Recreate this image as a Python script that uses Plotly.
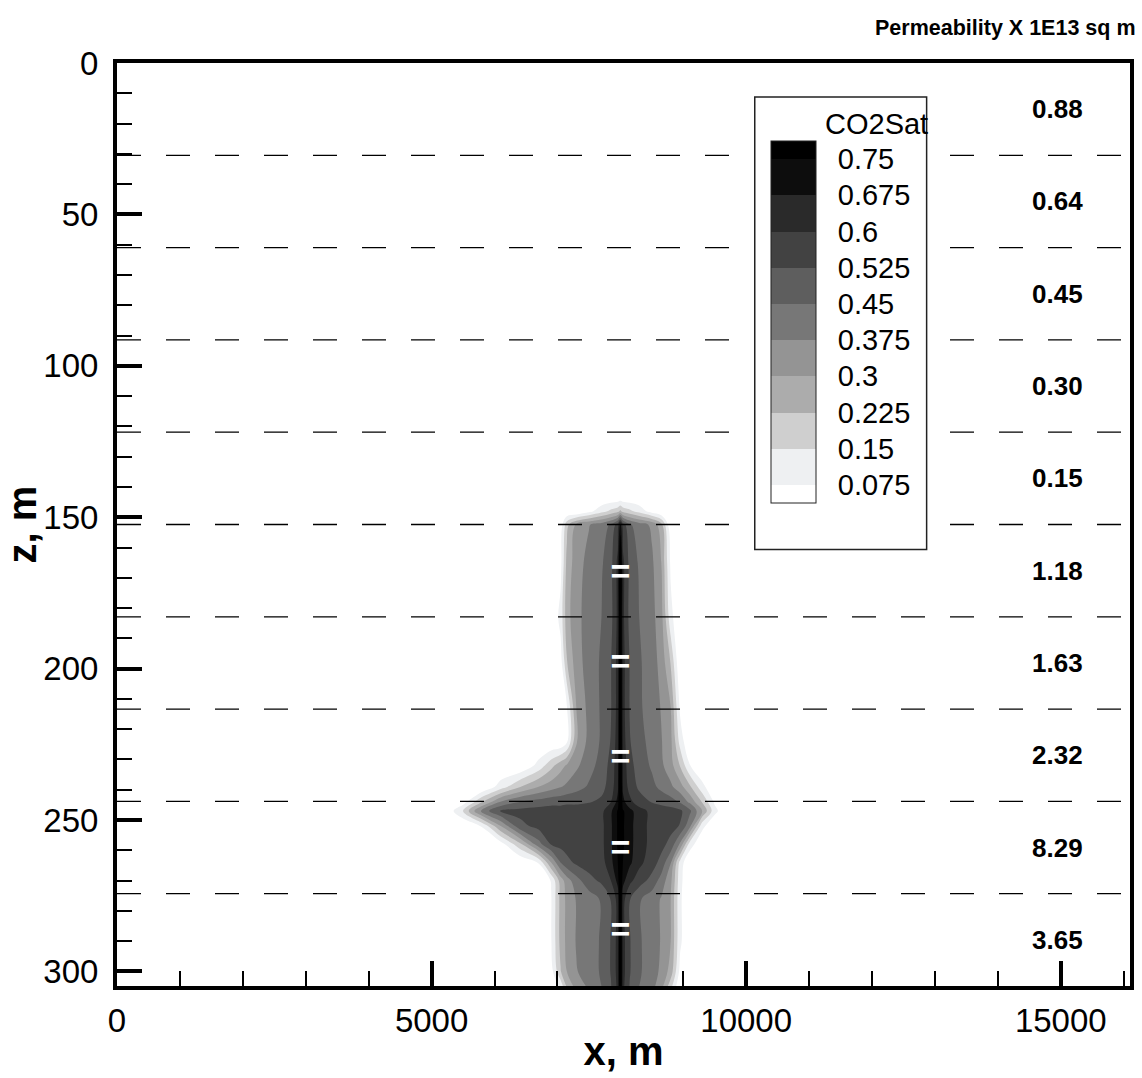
import plotly.graph_objects as go

# ---------------- data ----------------
# grid columns (x, m) and rows (z, m) of the CO2 saturation field
x_m = [5200, 5500, 5800, 6100, 6400, 6700, 6900, 7050, 7150, 7300, 7500, 7700, 7850,
       7960, 8000, 8040, 8150, 8300, 8500, 8650, 8800, 8950, 9100, 9300, 9500, 9700]
z_m = [143, 148, 152.4, 165, 183, 198, 213, 224, 232, 239, 244, 247, 252, 258, 264,
       270, 276, 290, 300, 304.8]

co2sat = [
    [0] * 26,
    [0, 0, 0, 0, 0, 0, 0, 0, 0, 0, 0.05, 0.12, 0.17, 0.2, 0.24, 0.2, 0.17, 0.12, 0.04, 0, 0, 0, 0, 0, 0, 0],
    [0, 0, 0, 0, 0, 0, 0, 0.02, 0.2, 0.31, 0.37, 0.41, 0.46, 0.56, 0.7, 0.56, 0.46, 0.41, 0.36, 0.25, 0, 0, 0, 0, 0, 0],
    [0, 0, 0, 0, 0, 0, 0, 0.05, 0.25, 0.34, 0.40, 0.44, 0.50, 0.62, 0.88, 0.62, 0.50, 0.44, 0.39, 0.30, 0.06, 0, 0, 0, 0, 0],
    [0, 0, 0, 0, 0, 0, 0, 0.1, 0.27, 0.35, 0.41, 0.45, 0.50, 0.62, 0.88, 0.62, 0.50, 0.45, 0.40, 0.33, 0.10, 0, 0, 0, 0, 0],
    [0, 0, 0, 0, 0, 0, 0, 0.04, 0.22, 0.34, 0.41, 0.46, 0.52, 0.63, 0.88, 0.63, 0.52, 0.46, 0.41, 0.35, 0.22, 0, 0, 0, 0, 0],
    [0, 0, 0, 0, 0, 0, 0, 0, 0.07, 0.30, 0.40, 0.46, 0.52, 0.63, 0.88, 0.63, 0.52, 0.46, 0.42, 0.37, 0.30, 0.06, 0, 0, 0, 0],
    [0, 0, 0, 0, 0, 0, 0, 0, 0.06, 0.29, 0.40, 0.46, 0.53, 0.64, 0.88, 0.64, 0.53, 0.47, 0.43, 0.38, 0.32, 0.12, 0, 0, 0, 0],
    [0, 0, 0, 0, 0, 0.10, 0.20, 0.27, 0.31, 0.36, 0.42, 0.48, 0.55, 0.65, 0.88, 0.65, 0.55, 0.49, 0.44, 0.39, 0.33, 0.22, 0.08, 0, 0, 0],
    [0, 0, 0, 0.11, 0.22, 0.30, 0.34, 0.37, 0.39, 0.42, 0.46, 0.50, 0.56, 0.66, 0.90, 0.66, 0.57, 0.51, 0.47, 0.43, 0.39, 0.33, 0.24, 0.10, 0, 0],
    [0, 0.04, 0.22, 0.38, 0.45, 0.48, 0.50, 0.50, 0.51, 0.51, 0.52, 0.54, 0.60, 0.70, 0.93, 0.70, 0.62, 0.56, 0.52, 0.50, 0.48, 0.44, 0.36, 0.22, 0.06, 0],
    [0, 0.15, 0.40, 0.53, 0.55, 0.56, 0.56, 0.56, 0.56, 0.56, 0.57, 0.58, 0.66, 0.76, 0.95, 0.76, 0.70, 0.63, 0.58, 0.57, 0.56, 0.54, 0.47, 0.30, 0.10, 0],
    [0, 0, 0.08, 0.30, 0.50, 0.55, 0.56, 0.56, 0.56, 0.56, 0.57, 0.58, 0.66, 0.76, 0.95, 0.76, 0.70, 0.63, 0.58, 0.56, 0.55, 0.52, 0.40, 0.10, 0, 0],
    [0, 0, 0, 0.04, 0.20, 0.42, 0.53, 0.55, 0.56, 0.56, 0.57, 0.58, 0.66, 0.76, 0.95, 0.76, 0.70, 0.63, 0.58, 0.55, 0.50, 0.36, 0.12, 0, 0, 0],
    [0, 0, 0, 0, 0, 0.08, 0.30, 0.45, 0.50, 0.54, 0.56, 0.57, 0.65, 0.75, 0.93, 0.75, 0.69, 0.62, 0.56, 0.50, 0.38, 0.12, 0, 0, 0, 0],
    [0, 0, 0, 0, 0, 0, 0.08, 0.26, 0.34, 0.42, 0.50, 0.54, 0.60, 0.70, 0.90, 0.70, 0.62, 0.56, 0.50, 0.42, 0.32, 0.10, 0, 0, 0, 0],
    [0, 0, 0, 0, 0, 0, 0.07, 0.25, 0.32, 0.38, 0.41, 0.46, 0.53, 0.63, 0.88, 0.63, 0.53, 0.46, 0.41, 0.37, 0.30, 0.09, 0, 0, 0, 0],
    [0, 0, 0, 0, 0, 0, 0.07, 0.25, 0.32, 0.38, 0.41, 0.46, 0.53, 0.63, 0.88, 0.63, 0.53, 0.46, 0.41, 0.37, 0.30, 0.09, 0, 0, 0, 0],
    [0, 0, 0, 0, 0, 0, 0.04, 0.22, 0.30, 0.37, 0.41, 0.46, 0.53, 0.63, 0.88, 0.63, 0.53, 0.46, 0.41, 0.36, 0.27, 0.05, 0, 0, 0, 0],
    [0, 0, 0, 0, 0, 0, 0, 0.10, 0.24, 0.33, 0.39, 0.45, 0.52, 0.62, 0.88, 0.62, 0.52, 0.45, 0.40, 0.33, 0.18, 0, 0, 0, 0, 0],
]

# contour levels and legend labels
level_start, level_end, level_step = 0.075, 0.75, 0.075
level_values = [0.075, 0.15, 0.225, 0.3, 0.375, 0.45, 0.525, 0.6, 0.675, 0.75]
level_labels = ["0.075", "0.15", "0.225", "0.3", "0.375", "0.45", "0.525", "0.6", "0.675", "0.75"]
band_colors = ["#ffffff", "#eef0f2", "#cfcfcf", "#acacac", "#949494", "#777777",
               "#5e5e5e", "#424242", "#2a2a2a", "#0d0d0d", "#000000"]

# geological layers
layer_bounds = [30.48, 60.96, 91.44, 121.92, 152.4, 182.88, 213.36, 243.84, 274.32]
layer_centers = [15.24, 45.72, 76.2, 106.68, 137.16, 167.64, 198.12, 228.6, 259.08, 289.56]
perm_labels = ["0.88", "0.64", "0.45", "0.30", "0.15", "1.18", "1.63", "2.32", "8.29", "3.65"]
perm_label_x = 14950

# injection well perforation markers
well_x = 8000
perf_z = [169, 198.5, 230, 260, 287]

x_range = [0, 16100]
z_range = [304.8, 0]

FONT = "Liberation Sans, Arial, sans-serif"

# ---------------- figure ----------------
W, H = 1142, 1078
ml, mr, mt, mb = 117, 12, 63, 92
pw, ph = W - ml - mr, H - mt - mb

fig = go.Figure()

fig.add_trace(go.Contour(
    x=x_m, y=z_m, z=co2sat,
    colorscale=[[i / 10, c] for i, c in enumerate(band_colors)],
    autocontour=False,
    contours=dict(start=level_start, end=level_end, size=level_step,
                  coloring="fill", showlines=False),
    line=dict(width=0),
    hoverinfo="skip",
    colorbar=dict(
        x=(756 - ml) / pw, xanchor="left",
        y=1 - (97 - mt) / ph, yanchor="top",
        lenmode="pixels", len=450,
        thicknessmode="pixels", thickness=45,
        xpad=15, ypad=44,
        outlinewidth=1, outlinecolor="#222222",
        bordercolor="#222222", borderwidth=1.5, bgcolor="white",
        tickvals=level_values, ticktext=level_labels,
        ticks="outside", ticklen=16, tickcolor="rgba(0,0,0,0)",
        tickfont=dict(family=FONT, size=29, color="black"),
    ),
))

fig.add_trace(go.Scatter(
    x=[well_x] * len(perf_z), y=perf_z, mode="text", text=["="] * len(perf_z),
    textposition="middle center",
    textfont=dict(family=FONT, size=34, color="white", weight="bold"),
    hoverinfo="skip", showlegend=False,
))

shapes = [dict(type="line", xref="paper", yref="y", x0=0, x1=1, y0=b, y1=b,
               line=dict(color="black", width=1.3, dash="24px,25px"), layer="above")
          for b in layer_bounds]

annotations = [dict(x=perm_label_x, y=c, xref="x", yref="y", text=t, showarrow=False,
                    xanchor="center", yanchor="middle",
                    font=dict(family=FONT, size=26, color="black", weight="bold"))
               for c, t in zip(layer_centers, perm_labels)]
annotations.append(dict(x=1.008, y=1 + (mt - 28) / ph, xref="paper", yref="paper",
                        text="Permeability X 1E13 sq m", showarrow=False,
                        xanchor="right", yanchor="middle",
                        font=dict(family=FONT, size=21.5, color="black", weight="bold")))
annotations.append(dict(x=(823 - ml) / pw, y=1 - (124 - mt) / ph, xref="paper", yref="paper",
                        text="CO2Sat", showarrow=False, xanchor="left", yanchor="middle",
                        font=dict(family=FONT, size=29, color="black")))

axis_common = dict(
    showline=True, linewidth=4, linecolor="black", mirror=True,
    ticks="inside", ticklen=25, tickwidth=3.5, tickcolor="black",
    showgrid=False, zeroline=False, automargin=False,
    tickfont=dict(family=FONT, size=33, color="black"),
)

fig.update_layout(
    width=W, height=H,
    margin=dict(l=ml, r=mr, t=mt, b=mb, autoexpand=False),
    paper_bgcolor="white", plot_bgcolor="white",
    showlegend=False,
    shapes=shapes, annotations=annotations,
    xaxis=dict(range=x_range, tick0=0, dtick=5000, tickformat="d", ticklabelstandoff=2,
               minor=dict(dtick=1000, ticks="inside", ticklen=15, tickwidth=1.5, tickcolor="black"),
               title=dict(text="x, m", standoff=0,
                          font=dict(family=FONT, size=40, color="black", weight="bold")),
               **axis_common),
    yaxis=dict(range=z_range, tick0=0, dtick=50, tickformat="d", ticklabelstandoff=8,
               minor=dict(dtick=10, ticks="inside", ticklen=15, tickwidth=1.5, tickcolor="black"),
               title=dict(text="z, m", standoff=8,
                          font=dict(family=FONT, size=40, color="black", weight="bold")),
               **axis_common),
)

fig.write_html("out.html")
